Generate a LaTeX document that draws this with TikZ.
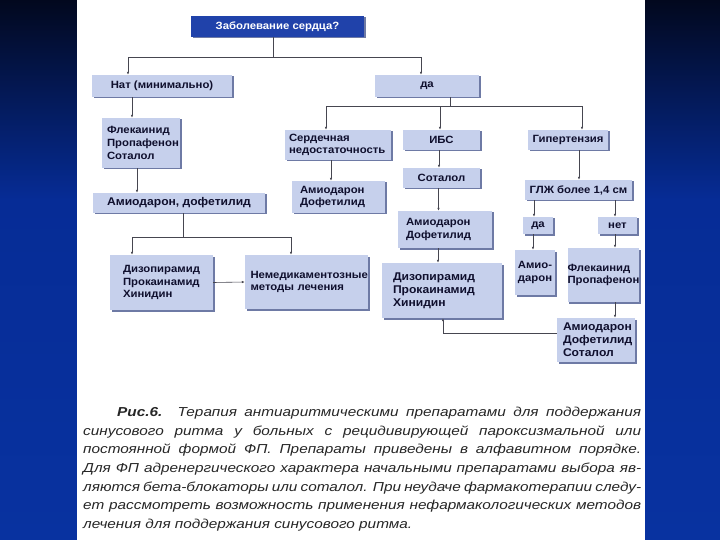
\documentclass[tikz,border=0pt]{standalone}
\usepackage{fontspec}
\setmainfont{Liberation Sans}
\newfontfamily\boxfont[FakeStretch=1.08]{Liberation Sans}
\newfontfamily\capfont[FakeStretch=1.18]{Liberation Sans}
\usetikzlibrary{arrows.meta,shadows}
\definecolor{boxblue}{RGB}{198,208,236}
\definecolor{darkbox}{RGB}{32,66,170}
\definecolor{boxtext}{RGB}{15,15,45}
\definecolor{lineclr}{RGB}{70,70,80}
\definecolor{shadowclr}{RGB}{110,122,165}
\definecolor{bgtop}{RGB}{2,8,30}
\definecolor{bgmid}{RGB}{6,44,150}
\definecolor{bgbot}{RGB}{8,50,160}
\tikzset{
  box/.style={fill=boxblue, text=boxtext, inner sep=0pt,
    font=\boxfont\bfseries\fontsize{10.5}{12.6}\selectfont,
    drop shadow={shadow xshift=1.5pt, shadow yshift=-1.5pt, fill=shadowclr, opacity=1}},
  bigtext/.style={font=\boxfont\bfseries\fontsize{11.2}{12.8}\selectfont},
  link/.style={draw=lineclr, line width=0.6pt},
  arr/.style={link, -{Latex[length=3pt,width=2.5pt]}},
}
\begin{document}
\begin{tikzpicture}[x=1pt, y=-1pt]
    \useasboundingbox (0,0) rectangle (720,540);
    % background
    \shade[top color=bgtop, bottom color=bgmid] (0,0) rectangle (720,200);
    \shade[top color=bgmid, bottom color=bgbot] (0,200) rectangle (720,540);
    \fill[white] (77,0) rectangle (645,540);

    % top
    \node[box, fill=darkbox, text=white, minimum width=173, minimum height=21] (heart) at (277.5,26.5) {Заболевание сердца?};
    \node[box, minimum width=140, minimum height=22] (no) at (162,86) {Нат (минимально)};
    \node[box, minimum width=104, minimum height=22] (yes) at (427,86) {да};

    % left branch
    \node[box, minimum width=78, minimum height=50, text width=68, align=left] (flec) at (141,143) {Флекаинид\\Пропафенон\\Соталол};
    \node[box, bigtext, minimum width=172, minimum height=20] (amdof) at (179,203) {Амиодарон, дофетилид};
    \node[box, minimum width=103, minimum height=55, text width=77, align=left] (dizoL) at (161.5,282.5) {Дизопирамид\\Прокаинамид\\Хинидин};
    \node[box, minimum width=123, minimum height=54, text width=112, align=left] (nondrug) at (306.5,282) {Немедикаментозные\\методы лечения};

    % right branch
    \node[box, minimum width=106, minimum height=30, text width=98, align=left] (hf) at (338,145) {Сердечная\\недостаточность};
    \node[box, minimum width=77, minimum height=20] (ihd) at (441.5,140) {ИБС};
    \node[box, minimum width=80, minimum height=20] (htn) at (568,140) {Гипертензия};
    \node[box, minimum width=93, minimum height=32, text width=77, align=left] (amdof1) at (338.5,197) {Амиодарон\\Дофетилид};
    \node[box, minimum width=77, minimum height=20] (sot) at (441.5,178) {Соталол};
    \node[box, minimum width=94, minimum height=37, text width=78, align=left] (amdof2) at (445,229.5) {Амиодарон\\Дофетилид};
    \node[box, bigtext, minimum width=120, minimum height=55, text width=98, align=left] (dizoR) at (442,290.5) {Дизопирамид\\Прокаинамид\\Хинидин};
    \node[box, minimum width=107, minimum height=20] (lvh) at (578.5,190) {ГЛЖ более 1,4 см};
    \node[box, minimum width=30, minimum height=17] (yes2) at (538,225.5) {да};
    \node[box, minimum width=39, minimum height=17] (no2) at (617.5,225.5) {нет};
    \node[box, minimum width=40, minimum height=45, align=center] (amio) at (535,272.5) {Амио-\\дарон};
    \node[box, minimum width=67, minimum height=54, align=left] (flec2) at (603.5,275) {Флекаинид\\Пропафенон};
    \node[box, bigtext, minimum width=78, minimum height=44, text width=66, align=left] (amdof3) at (596,340) {Амиодарон\\Дофетилид\\Соталол};

    % connectors
    \coordinate (qj) at (273,57);
    \draw[link] (heart.south -| qj) -- (qj);
    \draw[arr] (qj) -| ([xshift=-34pt]no.north);
    \draw[arr] (qj) -| ([xshift=-6pt]yes.north);
    \coordinate (yj) at (450,106);
    \draw[link] (yes.south -| yj) -- (yj);
    \draw[arr] (yj) -| ([xshift=-12pt]hf.north);
    \draw[arr] (yj) -| ([xshift=-1.5pt]ihd.north);
    \draw[arr] (yj) -| ([xshift=14pt]htn.north);
    \draw[arr] ([xshift=-30pt]no.south) -- ([xshift=-9pt]flec.north);
    \draw[arr] ([xshift=-4pt]flec.south) -- ([xshift=-42pt]amdof.north);
    \coordinate (aj) at (183,237);
    \draw[link] (amdof.south -| aj) -- (aj);
    \draw[arr] (aj) -| ([xshift=-29.5pt]dizoL.north);
    \draw[arr] (aj) -| ([xshift=-15.5pt]nondrug.north);
    \draw[arr] (dizoL.east) -- (nondrug.west);
    \draw[arr] ([xshift=-7pt]hf.south) -- ([xshift=-7.5pt]amdof1.north);
    \draw[arr] ([xshift=-2.5pt]ihd.south) -- ([xshift=-2.5pt]sot.north);
    \draw[arr] ([xshift=-3pt]sot.south) -- ([xshift=-6.5pt]amdof2.north);
    \draw[arr] ([xshift=-7pt]amdof2.south) -- ([xshift=-4pt]dizoR.north);
    \draw[arr] ([xshift=11pt]htn.south) -- ([xshift=0.5pt]lvh.north);
    \draw[arr] ([xshift=-44.5pt]lvh.south) -- ([xshift=-4pt]yes2.north);
    \draw[arr] ([xshift=36.5pt]lvh.south) -- ([xshift=-2.5pt]no2.north);
    \draw[arr] ([xshift=-5pt]yes2.south) -- ([xshift=-2pt]amio.north);
    \draw[arr] ([xshift=-2.5pt]no2.south) -- ([xshift=11.5pt]flec2.north);
    \draw[arr] ([xshift=11.5pt]flec2.south) -- ([xshift=19pt]amdof3.north);
    \draw[arr] ([yshift=7pt]amdof3.west) -| ([xshift=1pt]dizoR.south);

    % caption
    \node[anchor=north west, inner sep=0pt, align=left, text=black!85,
      font=\capfont\itshape\fontsize{13}{18.6}\selectfont] (caption) at (83,407)
      {\hspace*{34pt}\makebox[524pt][s]{\textbf{Рис.6.} Терапия антиаритмическими препаратами для поддержания}\\
       \makebox[558pt][s]{синусового ритма у больных с рецидивирующей пароксизмальной или}\\
       \makebox[558pt][s]{постоянной формой ФП. Препараты приведены в алфавитном порядке.}\\
       \makebox[558pt][s]{Для ФП адренергического характера начальными препаратами выбора яв-}\\
       \makebox[558pt][s]{ляются бета-блокаторы или соталол. При неудаче фармакотерапии следу-}\\
       \makebox[558pt][s]{ет рассмотреть возможность применения нефармакологических методов}\\
       лечения для поддержания синусового ритма.};
\end{tikzpicture}
\end{document}
